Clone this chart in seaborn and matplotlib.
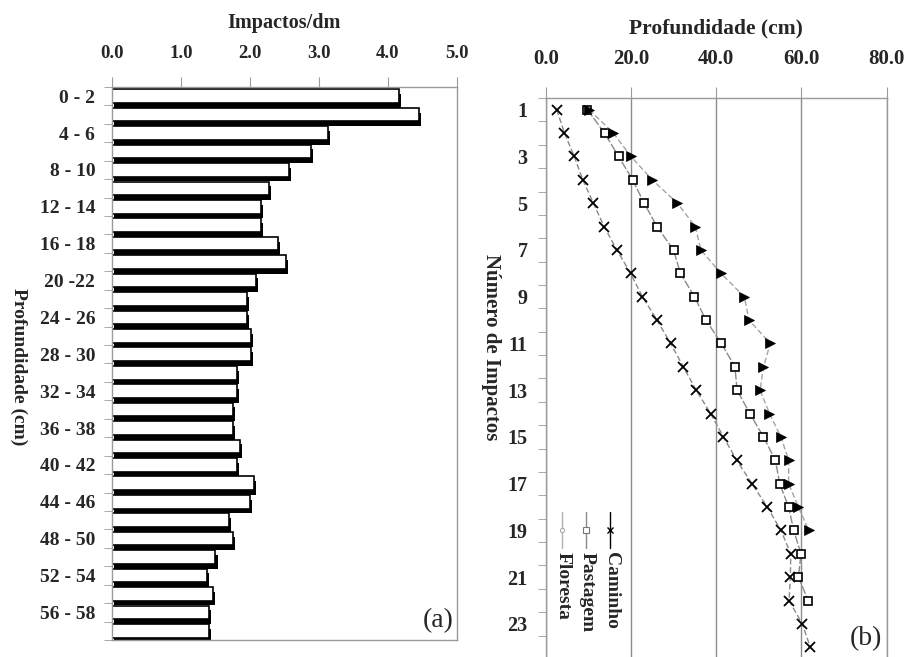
import numpy as np
import pandas as pd
import matplotlib
matplotlib.use("Agg")
import matplotlib.pyplot as plt
import matplotlib.patheffects as pe
import seaborn as sns

# ---- data: panel (a) impacts per dm by depth layer ----
depth_labels = ["0 - 2", "2 - 4", "4 - 6", "6 - 8", "8 - 10", "10 - 12",
                "12 - 14", "14 - 16", "16 - 18", "18 - 20", "20 -22", "22 - 24",
                "24 - 26", "26 - 28", "28 - 30", "30 - 32", "32 - 34", "34 - 36",
                "36 - 38", "38 - 40", "40 - 42", "42 - 44", "44 - 46", "46 - 48",
                "48 - 50", "50 - 52", "52 - 54", "54 - 56", "56 - 58", "58 - 60"]
impactos_dm = [4.16, 4.45, 3.13, 2.88, 2.56, 2.27, 2.16, 2.16, 2.40, 2.52,
               2.09, 1.95, 1.95, 2.01, 2.01, 1.81, 1.81, 1.76, 1.76, 1.85,
               1.81, 2.06, 2.00, 1.69, 1.75, 1.50, 1.38, 1.46, 1.40, 1.40]

# ---- data: panel (b) depth reached per impact number ----
caminho = [2.6, 4.4, 6.7, 8.7, 11.2, 13.7, 16.7, 19.9, 22.7, 26.1,
           29.3, 32.3, 35.3, 38.7, 41.7, 44.8, 48.4, 52.0, 55.2, 57.5,
           57.4, 57.1, 60.2, 62.1]
pastagem = [9.8, 13.8, 17.1, 20.4, 23.1, 26.1, 30.0, 31.6, 34.9, 37.6,
            41.2, 44.4, 44.9, 47.9, 51.1, 53.9, 54.9, 57.0, 58.2, 59.9,
            59.3, 61.6]
floresta = [10.2, 15.9, 20.0, 25.0, 30.9, 35.1, 36.4, 41.1, 46.6, 47.7,
            52.7, 51.1, 50.3, 52.5, 55.2, 57.0, 57.0, 59.3, 61.7]

series_names = ["Caminho", "Pastagem", "Floresta"]
series_vals = [caminho, pastagem, floresta]

sns.set_style("white")
plt.rcParams["font.family"] = ["Liberation Serif", "DejaVu Serif"]
plt.rcParams["font.weight"] = "bold"

GRAY = "#9a9a9a"

fig = plt.figure(figsize=(9.08, 6.57), dpi=100)

# ================= panel (a) =================
ax1 = fig.add_axes([0.1233, 0.0259, 0.38, 0.8417])
sns.barplot(x=impactos_dm, y=depth_labels, orient="h", color="white",
            saturation=1, edgecolor="black", linewidth=1.2, width=0.74, ax=ax1)
for bar in ax1.patches:
    bar.set_path_effects([pe.SimplePatchShadow(offset=(1.5, -3.4), shadow_rgbFace="black", alpha=1),
                          pe.Normal()])

ax1.set_xlim(0, 5)
ax1.set_ylim(len(depth_labels) - 0.5, -0.5)
ax1.xaxis.tick_top()
ax1.xaxis.set_label_position("top")
ax1.set_xticks(np.arange(0, 6, 1))
ax1.set_xticklabels([f"{v:.1f}" for v in np.arange(0, 6, 1)], fontsize=13.5, fontweight="bold")
ax1.tick_params(axis="x", direction="out", length=7, color=GRAY, pad=11)
ax1.set_xlabel("Impactos/dm", fontsize=14.5, fontweight="bold", labelpad=12)

ax1.set_yticks(np.arange(0, len(depth_labels), 2))
ax1.set_yticklabels(depth_labels[::2], fontsize=14, fontweight="bold")
ax1.set_yticks(np.arange(-0.5, len(depth_labels), 1), minor=True)
ax1.tick_params(axis="y", which="major", length=0, pad=12)
ax1.tick_params(axis="y", which="minor", length=6, color=GRAY, left=True)
ax1.set_ylabel("Profundidade (cm)", fontsize=14, fontweight="bold", rotation=270,
               va="center", ha="center")
ax1.yaxis.set_label_coords(-0.27, 0.494)
for s in ax1.spines.values():
    s.set_color(GRAY)
    s.set_linewidth(1)
ax1.text(0.99, 0.035, "(a)", transform=ax1.transAxes, ha="right", va="center",
         fontsize=20, fontweight="normal")

# ================= panel (b) =================
ax2 = fig.add_axes([0.601, -0.003, 0.3755, 0.8538])
styles = {
    "Caminho": dict(marker="x", mfc="black", mec="black", ms=7, mew=1.3),
    "Pastagem": dict(marker="s", mfc="white", mec="black", ms=5.5, mew=1.2),
    "Floresta": dict(marker=">", mfc="black", mec="black", ms=6.5, mew=0.5),
}
line_dash = {"Caminho": (4, 2), "Pastagem": (6, 1.5), "Floresta": (4, 2)}
line_col = {"Caminho": "#8a8a8a", "Pastagem": "#8a8a8a", "Floresta": "#a5a5a5"}

for name, vals in zip(series_names, series_vals):
    df = pd.DataFrame({"depth": vals, "impacto": np.arange(1, len(vals) + 1)})
    sns.lineplot(data=df, x="depth", y="impacto", orient="y", estimator=None, sort=False,
                 color=line_col[name], linewidth=1, ax=ax2, zorder=3,
                 dashes=False, **styles[name])
    ax2.lines[-1].set_dashes(line_dash[name])

ax2.set_xlim(0, 80)
ax2.set_ylim(24.5, 0.5)
ax2.xaxis.tick_top()
ax2.xaxis.set_label_position("top")
ax2.set_xticks(np.arange(0, 81, 20))
ax2.set_xticklabels([f"{v:.1f}" for v in np.arange(0, 81, 20)], fontsize=15, fontweight="bold")
ax2.tick_params(axis="x", direction="out", length=8, color=GRAY, pad=13)
ax2.set_xlabel("Profundidade (cm)", fontsize=15.5, fontweight="bold", labelpad=11)
ax2.grid(axis="x", color="#8c8c8c", linewidth=1)

ax2.set_yticks(np.arange(1, 24, 2))
ax2.set_yticklabels([str(v) for v in np.arange(1, 24, 2)], fontsize=14.5, fontweight="bold")
ax2.set_yticks(np.arange(0.5, 25, 1), minor=True)
ax2.tick_params(axis="y", which="major", length=0, pad=13)
ax2.tick_params(axis="y", which="minor", length=6, color=GRAY, left=True)
ax2.set_ylabel("Número de Impactos", fontsize=15, fontweight="bold", rotation=270,
               va="center", ha="center")
ax2.yaxis.set_label_coords(-0.16, 0.556)
for s in ax2.spines.values():
    s.set_color(GRAY)
    s.set_linewidth(1)
ax2.spines["bottom"].set_visible(False)
ax2.text(0.986, 0.037, "(b)", transform=ax2.transAxes, ha="right", va="center",
         fontsize=20, fontweight="normal")

# rotated legend, drawn by hand (entries run right to left)
leg_marker = {
    "Caminho": dict(marker="x", mfc="black", mec="black", ms=5, mew=1, color="black"),
    "Pastagem": dict(marker="s", mfc="white", mec="#777777", ms=4, mew=0.8, color="#8a8a8a"),
    "Floresta": dict(marker="o", mfc="white", mec="#aaaaaa", ms=3, mew=0.8, color="#b0b0b0"),
}
for i, name in enumerate(series_names):
    lx = 0.189 - i * 0.071
    m = leg_marker[name]
    ax2.plot([lx, lx], [0.262, 0.198], transform=ax2.transAxes, lw=1, zorder=4,
             color=m["color"], clip_on=False)
    ax2.plot([lx], [0.230], transform=ax2.transAxes, linestyle="none", zorder=5,
             marker=m["marker"], mfc=m["mfc"], mec=m["mec"], ms=m["ms"], mew=m["mew"])
    ax2.text(lx + 0.004, 0.19, name, transform=ax2.transAxes, rotation=270,
             ha="center", va="top", fontsize=14, fontweight="bold")

fig.savefig("out.png", dpi=100)
